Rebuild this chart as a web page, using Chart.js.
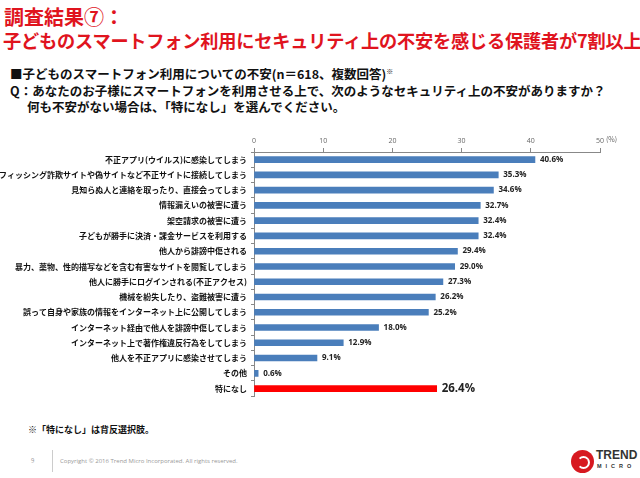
<!DOCTYPE html>
<html>
<head>
<meta charset="utf-8">
<script src="https://cdn.jsdelivr.net/npm/chart.js@4"></script>
<style>
  html, body { margin: 0; padding: 0; background: #fff; }
  body { width: 640px; height: 478px; position: relative; overflow: hidden;
         font-family: "Noto Sans CJK JP", sans-serif; }
  .t { position: absolute; white-space: nowrap; font-weight: bold; line-height: 1; }
  #chartBox { position: absolute; left: 0; top: 130px; width: 640px; height: 275px; }
</style>
</head>
<body>
<div class="t" style="left:4px;top:7px;font-size:20px;color:#e0141e;">調査結果⑦：</div>
<div class="t" style="left:3px;top:31px;font-size:18.2px;color:#e0141e;letter-spacing:-0.2px;">子どものスマートフォン利用にセキュリティ上の不安を感じる保護者が7割以上</div>
<div class="t" style="left:10px;top:68px;font-size:12.5px;color:#111;">■子どものスマートフォン利用についての不安(n＝618、複数回答)<sup style="font-size:7px;">※</sup></div>
<div class="t" style="left:10px;top:85px;font-size:12.5px;color:#111;">Q：あなたのお子様にスマートフォンを利用させる上で、次のようなセキュリティ上の不安がありますか？</div>
<div class="t" style="left:27px;top:101px;font-size:12.5px;color:#111;">何も不安がない場合は、「特になし」を選んでください。</div>

<div id="chartBox"><canvas id="surveyChart"></canvas></div>
<div class="t" style="left:606px;top:136px;font-size:7px;font-weight:normal;color:#666;">(%)</div>

<div class="t" style="left:28px;top:425px;font-size:9px;color:#111;">※「特になし」は背反選択肢。</div>
<div class="t" style="left:31px;top:458px;font-size:6px;font-weight:normal;color:#999;">9</div>
<div style="position:absolute;left:52px;top:450px;width:1px;height:22px;background:#ccc;"></div>
<div class="t" style="left:60px;top:458px;font-size:6px;font-weight:normal;color:#999;font-family:'Open Sans',sans-serif;">Copyright © 2016 Trend Micro Incorporated. All rights reserved.</div>
<div style="position:absolute;left:571px;top:450px;width:23px;height:23px;border-radius:50%;background:#d71920;"></div>
<div style="position:absolute;left:577px;top:456px;width:9px;height:9px;border-radius:50%;border:2px solid #fff;border-left-color:transparent;"></div>
<div class="t" style="left:596px;top:449px;font-size:12px;color:#333;font-family:'Liberation Sans',sans-serif;">TREND</div>
<div class="t" style="left:597px;top:464px;font-size:5.5px;color:#333;letter-spacing:4px;font-family:'Liberation Sans',sans-serif;">MICRO</div>

<script>
const categories = [
  "不正アプリ(ウイルス)に感染してしまう",
  "フィッシング詐欺サイトや偽サイトなど不正サイトに接続してしまう",
  "見知らぬ人と連絡を取ったり、直接会ってしまう",
  "情報漏えいの被害に遭う",
  "架空請求の被害に遭う",
  "子どもが勝手に決済・課金サービスを利用する",
  "他人から誹謗中傷される",
  "暴力、薬物、性的描写などを含む有害なサイトを閲覧してしまう",
  "他人に勝手にログインされる(不正アクセス)",
  "機械を紛失したり、盗難被害に遭う",
  "誤って自身や家族の情報をインターネット上に公開してしまう",
  "インターネット経由で他人を誹謗中傷してしまう",
  "インターネット上で著作権違反行為をしてしまう",
  "他人を不正アプリに感染させてしまう",
  "その他",
  "特になし"
];
const values = [40.6, 35.3, 34.6, 32.7, 32.4, 32.4, 29.4, 29.0, 27.3, 26.2, 25.2, 18.0, 12.9, 9.1, 0.6, 26.4];
const xTicks = [0, 10, 20, 30, 40, 50];

const blue = "#4a7ebb";
const red = "#ff0000";
const barColors = categories.map((c) => (c === "特になし" ? red : blue));

// value labels at the end of each bar
const valueLabels = {
  id: "valueLabels",
  afterDatasetsDraw(chart) {
    const ctx = chart.ctx;
    const meta = chart.getDatasetMeta(0);
    ctx.save();
    ctx.textBaseline = "middle";
    ctx.textAlign = "left";
    meta.data.forEach((bar, i) => {
      const last = categories[i] === "特になし";
      ctx.font = last ? "bold 11.5px 'Open Sans', sans-serif" : "bold 8px 'Open Sans', sans-serif";
      ctx.fillStyle = "#222";
      ctx.fillText(values[i].toFixed(1) + "%", bar.x + (last ? 5 : 5), bar.y);
    });
    ctx.restore();
  }
};

new Chart(document.getElementById("surveyChart"), {
  type: "bar",
  data: {
    labels: categories,
    datasets: [{
      data: values,
      backgroundColor: barColors,
      barThickness: categories.map((c) => (c === "特になし" ? 7 : 6)),
      borderWidth: 0
    }]
  },
  options: {
    indexAxis: "y",
    responsive: true,
    maintainAspectRatio: false,
    animation: false,
    layout: { padding: { left: 0, right: 40, top: 0, bottom: 0 } },
    plugins: { legend: { display: false }, tooltip: { enabled: false } },
    scales: {
      x: {
        position: "top",
        min: 0,
        max: 50,
        afterBuildTicks(axis) { axis.ticks = xTicks.map((v) => ({ value: v })); },
        afterFit(axis) { axis.height = 22; },
        ticks: { color: "#666", padding: 3, font: { size: 7, family: "'Open Sans', sans-serif" } },
        grid: { drawOnChartArea: false, tickLength: 4, color: "#888" },
        border: { color: "#888" }
      },
      y: {
        afterFit(axis) { axis.width = 254; },
        ticks: {
          color: "#111",
          padding: 4,
          autoSkip: false,
          font: { size: 8, weight: "bold", family: "'Noto Sans CJK JP', sans-serif" }
        },
        grid: { drawOnChartArea: false, offset: true, tickLength: 3, color: "#888" },
        border: { color: "#888" }
      }
    }
  },
  plugins: [valueLabels]
});
</script>
</body>
</html>
